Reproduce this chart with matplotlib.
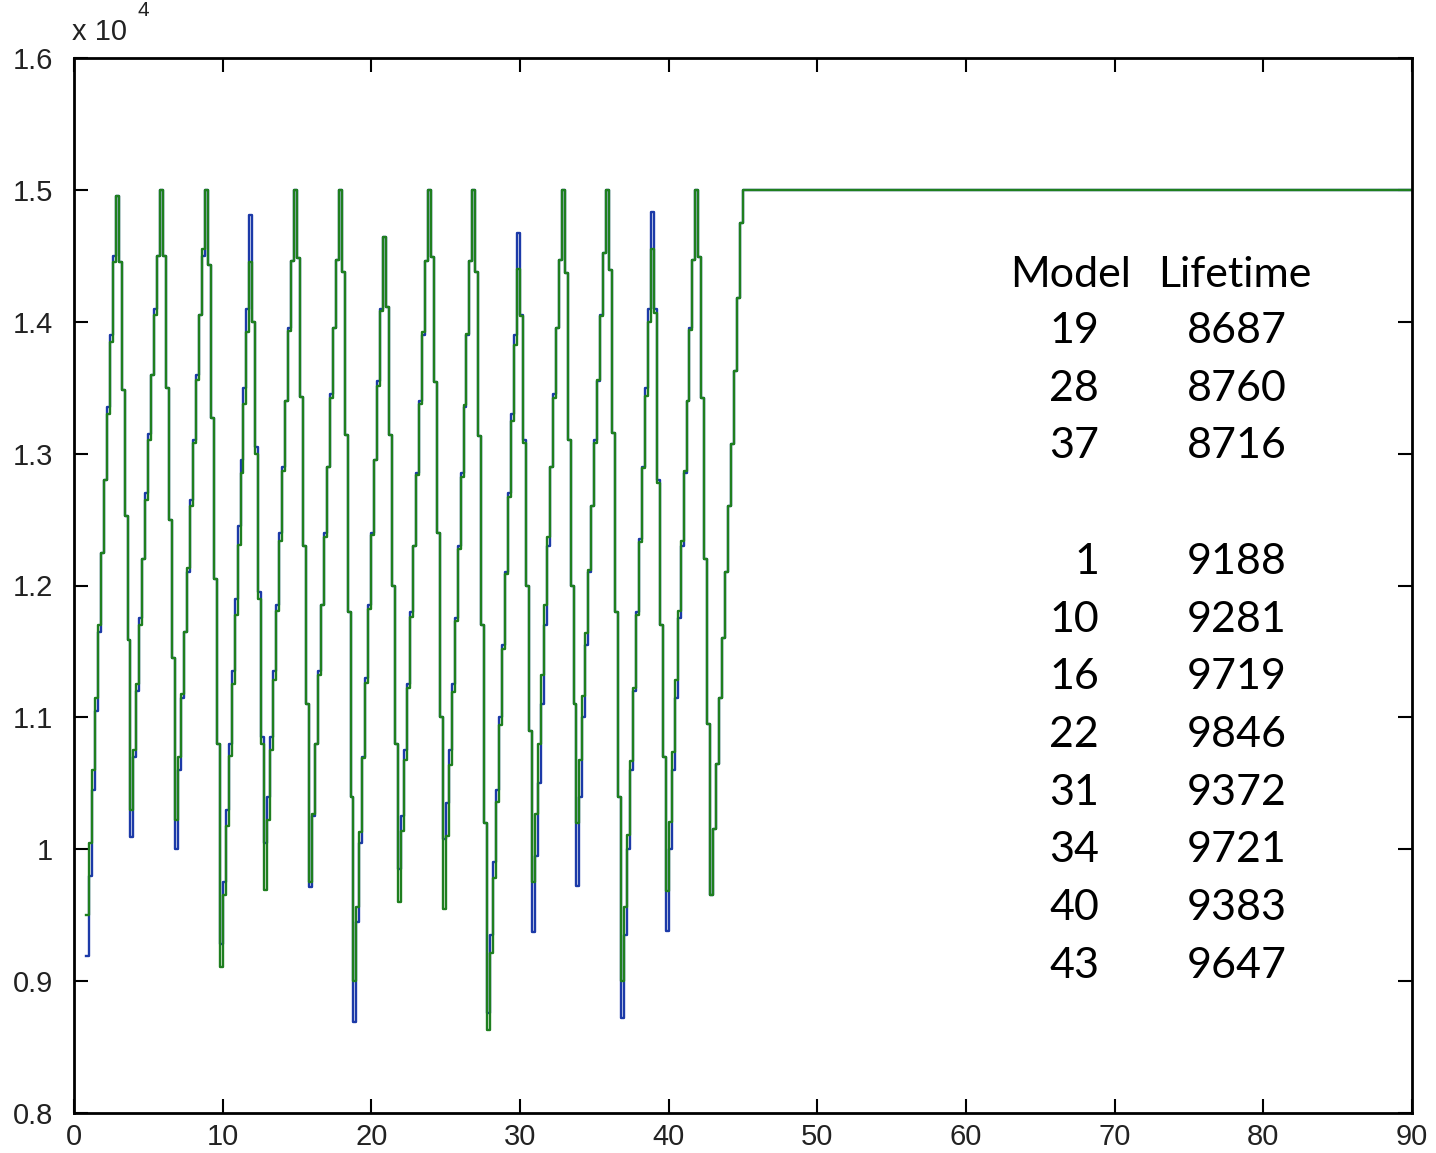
import matplotlib
matplotlib.use('Agg')
import matplotlib.pyplot as plt
import numpy as np

# lifetime per sample, one sample every 0.2 model units starting at 0.8
# (15 samples per 3-model cycle), then the flat cap out to model 90
green_life = [
    9500, 10050, 10600, 11150, 11700, 12250, 12800, 13300, 13850, 14450, 14950, 14450, 13480, 12530, 11590,
    10300, 10750, 11250, 11700, 12200, 12650, 13100, 13600, 14050, 14500, 15000, 14500, 13500, 12500, 11450,
    10220, 10700, 11180, 11650, 12130, 12600, 13080, 13560, 14050, 14550, 15000, 14430, 13270, 12050, 10800,
    9110, 9650, 10180, 10710, 11250, 11780, 12310, 12850, 13380, 13920, 14450, 14000, 13000, 11900, 10800,
    9690, 10220, 10750, 11280, 11810, 12340, 12870, 13400, 13930, 14460, 15000, 14480, 13430, 12300, 11100,
    9750, 10270, 10800, 11320, 11850, 12370, 12900, 13420, 13950, 14470, 15000, 14380, 13140, 11800, 10400,
    9000, 9560, 10130, 10690, 11260, 11820, 12380, 12950, 13510, 14080, 14640, 14110, 13140, 12000, 10800,
    9600, 10140, 10680, 11220, 11760, 12300, 12840, 13380, 13920, 14460, 15000, 14490, 13540, 12400, 11000,
    9550, 10100, 10640, 11190, 11730, 12280, 12820, 13370, 13910, 14460, 15000, 14380, 13130, 11700, 10200,
    8630, 9210, 9780, 10360, 10940, 11520, 12090, 12670, 13250, 13820, 14400, 14040, 13080, 12000, 10900,
    9750, 10270, 10800, 11320, 11850, 12370, 12900, 13420, 13950, 14470, 15000, 14370, 13100, 12000, 11100,
    10200, 10680, 11160, 11640, 12120, 12600, 13080, 13560, 14040, 14520, 15000, 14390, 13160, 11800, 10400,
    9000, 9560, 10110, 10670, 11220, 11780, 12330, 12890, 13440, 14000, 14550, 14070, 12780, 11700, 10700,
    9680, 10210, 10740, 11280, 11810, 12340, 12870, 13400, 13940, 14470, 15000, 14490, 13420, 12200, 10950,
    9650, 10150, 10650, 11150, 11600, 12100, 12600, 13070, 13630, 14180, 14750,
    15000, 15000,
]
blue_life = [
    9190, 9800, 10450, 11050, 11650, 12250, 12800, 13350, 13900, 14500, 14950, 14450, 13480, 12530, 11590,
    10090, 10700, 11200, 11750, 12200, 12700, 13150, 13600, 14100, 14500, 15000, 14500, 13500, 12500, 11450,
    10000, 10600, 11150, 11650, 12100, 12650, 13100, 13600, 14050, 14500, 15000, 14430, 13270, 12050, 10800,
    9280, 9750, 10300, 10800, 11350, 11900, 12450, 12950, 13500, 14100, 14810, 14000, 13050, 11950, 10850,
    10050, 10400, 10850, 11350, 11850, 12400, 12900, 13400, 13950, 14460, 15000, 14480, 13430, 12300, 11100,
    9710, 10250, 10800, 11350, 11850, 12400, 12900, 13450, 13950, 14470, 15000, 14380, 13140, 11800, 10400,
    8690, 9450, 10050, 10700, 11300, 11850, 12400, 12950, 13550, 14100, 14640, 14110, 13140, 12000, 10800,
    9850, 10250, 10750, 11250, 11800, 12300, 12850, 13400, 13900, 14460, 15000, 14490, 13540, 12400, 11000,
    10080, 10350, 10750, 11250, 11750, 12300, 12850, 13350, 13900, 14460, 15000, 14380, 13130, 11700, 10200,
    8760, 9350, 9900, 10450, 11000, 11550, 12100, 12700, 13300, 13900, 14670, 14050, 13100, 12000, 10900,
    9370, 9950, 10500, 11100, 11700, 12300, 12900, 13450, 13950, 14470, 15000, 14370, 13100, 12000, 11100,
    9720, 10400, 11000, 11550, 12100, 12600, 13100, 13550, 14050, 14520, 15000, 14390, 13160, 11800, 10400,
    8720, 9350, 10000, 10600, 11200, 11800, 12350, 12900, 13500, 14100, 14830, 14100, 12800, 11700, 10700,
    9380, 10000, 10600, 11150, 11750, 12300, 12850, 13400, 13950, 14470, 15000, 14490, 13420, 12200, 10950,
    9650, 10150, 10650, 11150, 11600, 12100, 12600, 13070, 13630, 14180, 14750,
    15000, 15000,
]
tail_x = [45, 90]

worst_models = [19, 28, 37]
worst_lifetimes = [8687, 8760, 8716]
other_models = [1, 10, 16, 22, 31, 34, 40, 43]
other_lifetimes = [9188, 9281, 9719, 9846, 9372, 9721, 9383, 9647]

ytick_vals = [8000, 9000, 10000, 11000, 12000, 13000, 14000, 15000, 16000]
ytick_labels = ['0.8', '0.9', '1', '1.1', '1.2', '1.3', '1.4', '1.5', '1.6']

W, H = 1436, 1153
tick_font = ['Liberation Sans Narrow', 'Liberation Sans', 'DejaVu Sans']

x = np.concatenate([0.8 + 0.2 * np.arange(len(green_life) - 2), tail_x])

fig = plt.figure(figsize=(W / 100, H / 100), dpi=100)
ax = fig.add_axes([74 / W, 1 - 1113 / H, (1412 - 74) / W, (1113 - 58) / H])

ax.step(x, blue_life, where='post', color='#1c3aa8', lw=1.7)
ax.step(x, green_life, where='post', color='#1f7f1f', lw=1.7)

ax.set_xlim(0, 90)
ax.set_ylim(8000, 16000)
ax.set_xticks(range(0, 91, 10))
ax.set_yticks(ytick_vals)
ax.set_yticklabels(ytick_labels)
ax.tick_params(direction='in', length=10, width=1.5, top=True, right=True,
               labelsize=21, colors='black')
ax.tick_params(axis='y', pad=15)
ax.tick_params(axis='x', pad=7)
for lab in ax.get_xticklabels() + ax.get_yticklabels():
    lab.set_family(tick_font)
    lab.set_color('#222222')
for sp in ax.spines.values():
    sp.set_linewidth(2)

# MATLAB-style exponent marker
fig.text(72 / W, 1 - 32 / H, 'x 10', fontsize=21, family=tick_font,
         va='center', ha='left', color='#222222')
fig.text(138 / W, 1 - 11 / H, '4', fontsize=15, family=tick_font,
         va='center', ha='left', color='#222222')

# lifetime table
tfont = ['Lato', 'DejaVu Sans']
fig.text(1010 / W, 1 - 287 / H, 'Model', fontsize=31, family=tfont, va='baseline')
fig.text(1158 / W, 1 - 287 / H, 'Lifetime', fontsize=31, family=tfont, va='baseline')
rows = list(zip(worst_models, worst_lifetimes)) + [None] + list(zip(other_models, other_lifetimes))
for i, row in enumerate(rows):
    if row is None:
        continue
    yb = 1 - (343 + 57.7 * i) / H
    fig.text(1099 / W, yb, str(row[0]), fontsize=31, family=tfont, va='baseline', ha='right')
    fig.text(1187 / W, yb, str(row[1]), fontsize=31, family=tfont, va='baseline', ha='left')

fig.savefig('out.png', dpi=100)
